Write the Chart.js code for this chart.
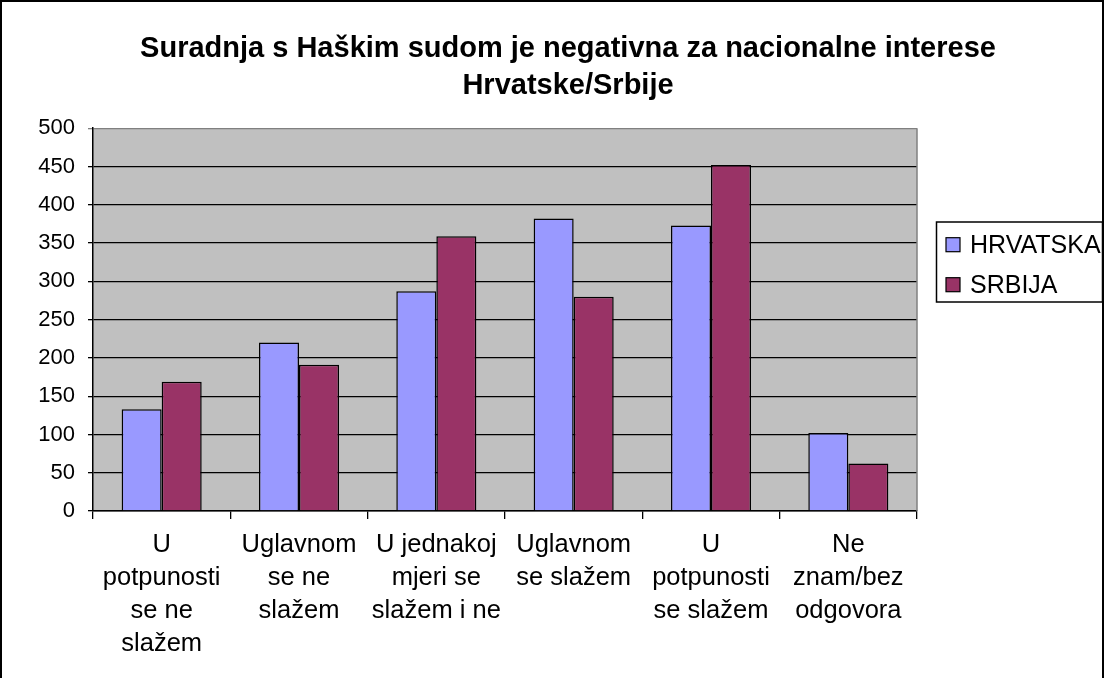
<!DOCTYPE html>
<html>
<head>
<meta charset="utf-8">
<script src="https://cdn.jsdelivr.net/npm/chart.js@4.4.1/dist/chart.umd.min.js"></script>
<style>
html,body{margin:0;padding:0;background:#fff;}
#wrap{width:1105px;height:678px;position:relative;}
</style>
</head>
<body>
<div id="wrap"><canvas id="c" width="1105" height="678"></canvas></div>
<script>
const titleLines = ["Suradnja s Haškim sudom je negativna za nacionalne interese", "Hrvatske/Srbije"];
const categories = [
  ["U", "potpunosti", "se ne", "slažem"],
  ["Uglavnom", "se ne", "slažem"],
  ["U jednakoj", "mjeri se", "slažem i ne"],
  ["Uglavnom", "se slažem"],
  ["U", "potpunosti", "se slažem"],
  ["Ne", "znam/bez", "odgovora"]
];
const seriesNames = ["HRVATSKA", "SRBIJA"];
const hrvatska = [133, 220, 287, 382, 373, 102];
const srbija = [169, 191, 359, 280, 452, 62];
const yTicks = [0, 50, 100, 150, 200, 250, 300, 350, 400, 450, 500];
const colors = ["#9999FF", "#993366"];

const FONT = "'Liberation Sans', Arial, sans-serif";

const framePlugin = {
  id: 'frame',
  beforeDraw(chart) {
    const ctx = chart.ctx, a = chart.chartArea;
    ctx.save();
    ctx.fillStyle = '#fff';
    ctx.fillRect(0, 0, chart.width, chart.height);
    ctx.fillStyle = '#C0C0C0';
    ctx.fillRect(a.left, a.top, a.right - a.left, a.bottom - a.top);
    ctx.restore();
  },
  afterDraw(chart) {
    const ctx = chart.ctx, a = chart.chartArea;
    ctx.save();
    ctx.strokeStyle = '#808080';
    ctx.lineWidth = 1.5;
    ctx.beginPath();
    ctx.moveTo(a.right, a.top);
    ctx.lineTo(a.right, a.bottom);
    ctx.stroke();
    ctx.strokeStyle = '#000';
    ctx.lineWidth = 2;
    ctx.beginPath();
    ctx.moveTo(1, chart.height);
    ctx.lineTo(1, 1);
    ctx.lineTo(chart.width - 2, 1);
    ctx.lineTo(chart.width - 2, chart.height);
    ctx.stroke();
    // legend
    const lx = 936.5, ly = 222, lw = 166, lh = 80;
    ctx.lineWidth = 1.5;
    ctx.strokeStyle = '#000';
    ctx.strokeRect(lx, ly, lw, lh);
    ctx.font = '25px ' + FONT;
    ctx.textBaseline = 'middle';
    ctx.textAlign = 'left';
    chart.data.datasets.forEach((ds, i) => {
      const cy = 244.7 + i * 40;
      ctx.fillStyle = ds.backgroundColor;
      ctx.fillRect(946, cy - 7, 14, 14);
      ctx.lineWidth = 1.2;
      ctx.strokeRect(946, cy - 7, 14, 14);
      ctx.fillStyle = '#000';
      ctx.fillText(ds.label, 970, cy + 1);
    });
    ctx.restore();
  }
};

new Chart(document.getElementById('c'), {
  type: 'bar',
  data: {
    labels: categories,
    datasets: [
      { label: seriesNames[0], data: hrvatska, backgroundColor: colors[0], borderColor: '#000', borderWidth: 1.5, borderSkipped: 'bottom' },
      { label: seriesNames[1], data: srbija, backgroundColor: colors[1], borderColor: '#000', borderWidth: 1.5, borderSkipped: 'bottom' }
    ]
  },
  options: {
    responsive: false,
    animation: false,
    devicePixelRatio: 1,
    layout: { padding: { left: 31, right: 0, top: 0, bottom: 0 } },
    datasets: { bar: { categoryPercentage: 0.583, barPercentage: 1.0 } },
    plugins: {
      legend: { display: false },
      tooltip: { enabled: false },
      title: {
        display: true,
        text: titleLines,
        color: '#000',
        font: { family: FONT, size: 29, weight: 'bold', lineHeight: 1.28 },
        padding: { top: 30, bottom: 24 }
      }
    },
    scales: {
      x: {
        grid: { display: true, drawOnChartArea: false, drawTicks: true, tickLength: 8, color: '#000', lineWidth: 1.3, offset: true },
        border: { display: true, color: '#000', width: 1.5 },
        ticks: { color: '#000', font: { family: FONT, size: 25.5, lineHeight: 1.29 }, maxRotation: 0, minRotation: 0, autoSkip: false, padding: 10 },
        afterFit(scale) { scale.height = 167; }
      },
      y: {
        min: 0, max: 500,
        afterBuildTicks(scale) { scale.ticks = yTicks.map(v => ({ value: v })); },
        grid: {
          color: (c) => (c.tick && c.tick.value === 500) ? '#808080' : '#000',
          lineWidth: 1.3, tickLength: 5, drawTicks: true
        },
        border: { display: true, color: '#000', width: 1.5 },
        ticks: { color: '#000', font: { family: FONT, size: 22 }, padding: 13 },
        afterFit(scale) { scale.width = 62; }
      },
      yR: {
        position: 'right',
        display: true,
        min: 0, max: 500,
        grid: { display: false, drawTicks: false },
        border: { display: false },
        ticks: { display: false },
        afterFit(scale) { scale.width = 188; }
      }
    }
  },
  plugins: [framePlugin]
});
</script>
</body>
</html>
